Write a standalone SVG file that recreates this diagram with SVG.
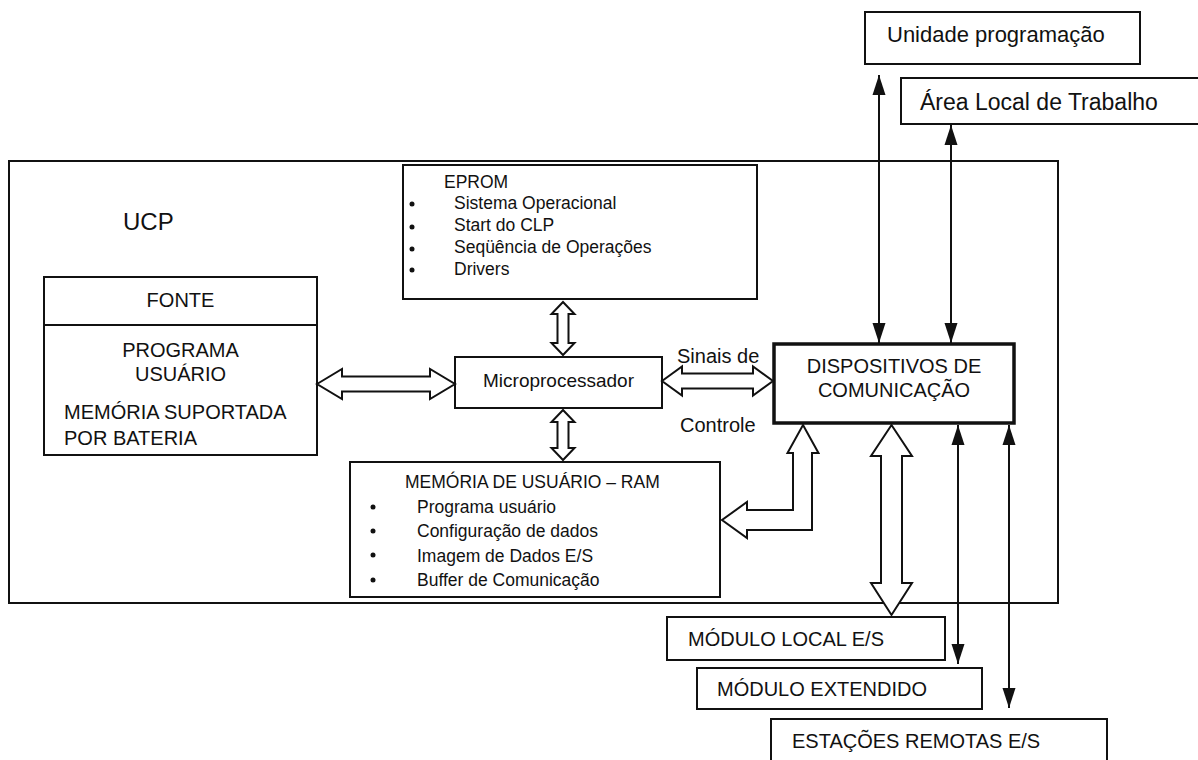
<svg xmlns="http://www.w3.org/2000/svg" width="1198" height="760" viewBox="0 0 1198 760">
<defs>
<style>
text{font-family:"Liberation Sans",Arial,sans-serif;fill:#111}
.box{fill:#fff;stroke:#111;stroke-width:2}
.thick{fill:#fff;stroke:#111;stroke-width:3.5}
.fat{fill:#fff;stroke:#111;stroke-width:2;stroke-linejoin:miter}
.thin{stroke:#111;stroke-width:2;fill:none;marker-start:url(#ah);marker-end:url(#ah)}
.t17{font-size:17.5px}
.t20{font-size:20px}
.mid{text-anchor:middle}
</style>
<marker id="ah" markerUnits="userSpaceOnUse" markerWidth="22" markerHeight="14" refX="20" refY="6.5" orient="auto-start-reverse" viewBox="0 0 22 13">
<path d="M0,0 L20,6.5 L0,13 Z" fill="#111"/>
</marker>
</defs>
<rect width="1198" height="760" fill="#fff"/>

<g id="ucp">
<rect class="box" x="9" y="161" width="1049" height="442" fill="none"/>
<text x="123" y="230" style="font-size:24px">UCP</text>
</g>

<g id="unidade">
<rect class="box" x="865" y="12" width="275" height="52"/>
<text x="887" y="42" style="font-size:22px">Unidade programação</text>
</g>
<g id="area">
<rect class="box" x="901" y="78" width="310" height="46"/>
<text x="920" y="110" style="font-size:23px">Área Local de Trabalho</text>
</g>

<g id="fonte">
<rect class="box" x="44" y="277" width="273" height="178"/>
<line x1="44" y1="325" x2="317" y2="325" stroke="#111" stroke-width="2"/>
<text class="t20 mid" x="180.5" y="307">FONTE</text>
<text class="t20 mid" x="180.5" y="357">PROGRAMA</text>
<text class="t20 mid" x="180.5" y="381">USUÁRIO</text>
<text class="t20" x="64" y="419">MEMÓRIA SUPORTADA</text>
<text class="t20" x="64" y="445">POR BATERIA</text>
</g>

<g id="eprom">
<rect class="box" x="403" y="165" width="354" height="134"/>
<text class="t17" x="444" y="188">EPROM</text>
<circle cx="412" cy="204" r="2.5" fill="#111"/>
<circle cx="412" cy="227" r="2.5" fill="#111"/>
<circle cx="412" cy="249" r="2.5" fill="#111"/>
<circle cx="412" cy="270" r="2.5" fill="#111"/>
<text class="t17" x="454" y="209">Sistema Operacional</text>
<text class="t17" x="454" y="231">Start do CLP</text>
<text class="t17" x="454" y="253">Seqüência de Operações</text>
<text class="t17" x="454" y="275">Drivers</text>
</g>

<g id="micro">
<rect class="box" x="455" y="357" width="207" height="51"/>
<text class="mid" x="558.5" y="387" style="font-size:19px">Microprocessador</text>
</g>

<g id="ram">
<rect class="box" x="350" y="462" width="370" height="135"/>
<text class="t17" x="405" y="488">MEMÓRIA DE USUÁRIO – RAM</text>
<circle cx="373" cy="507" r="2.5" fill="#111"/>
<circle cx="373" cy="531" r="2.5" fill="#111"/>
<circle cx="373" cy="555" r="2.5" fill="#111"/>
<circle cx="373" cy="580" r="2.5" fill="#111"/>
<text class="t17" x="417" y="513">Programa usuário</text>
<text class="t17" x="417" y="537">Configuração de dados</text>
<text class="t17" x="417" y="562">Imagem de Dados E/S</text>
<text class="t17" x="417" y="586">Buffer de Comunicação</text>
</g>

<g id="dispositivos">
<rect class="thick" x="774" y="344" width="240" height="79"/>
<text class="t20 mid" x="894" y="373">DISPOSITIVOS DE</text>
<text class="t20 mid" x="894" y="397">COMUNICAÇÃO</text>
</g>

<g id="modulo-local">
<rect class="box" x="667" y="617" width="278" height="43"/>
<text class="t20" x="688" y="646">MÓDULO LOCAL E/S</text>
</g>
<g id="modulo-extendido">
<rect class="box" x="697" y="668" width="285" height="41"/>
<text class="t20" x="717" y="696">MÓDULO EXTENDIDO</text>
</g>
<g id="estacoes">
<rect class="box" x="771" y="719" width="336" height="60"/>
<text class="t20" x="792" y="748">ESTAÇÕES REMOTAS E/S</text>
</g>

<g id="connectors">
<polygon class="fat" points="317,384 342,369 342,376.5 430,376.5 430,369 455,384 430,399 430,391.5 342,391.5 342,399"/>
<polygon class="fat" points="662,381 682,366.5 682,373.5 753,373.5 753,366.5 773,381 753,395.5 753,388.5 682,388.5 682,395.5"/>
<polygon class="fat" points="563,302 574.5,314 568.5,314 568.5,343 574.5,343 563,355 551.5,343 557.5,343 557.5,314 551.5,314"/>
<polygon class="fat" points="563,410 574.5,422 568.5,422 568.5,448 574.5,448 563,460 551.5,448 557.5,448 557.5,422 551.5,422"/>
<polygon class="fat" points="891.5,425 912,456 902,456 902,583 912,583 891.5,615 871,583 881,583 881,456 871,456"/>
<polygon class="fat" points="803,425 818.5,453 812,453 812,530 747,530 747,538 722,520 747,502 747,510 793,510 793,453 787.5,453"/>
<line class="thin" x1="879" y1="75" x2="879" y2="343"/>
<line class="thin" x1="951" y1="125" x2="951" y2="343"/>
<line class="thin" x1="958" y1="425" x2="958" y2="664"/>
<line class="thin" x1="1009" y1="425" x2="1009" y2="708"/>
</g>
<g id="labels">
<text class="t20" x="677" y="363">Sinais de</text>
<text class="t20" x="680" y="432">Controle</text>
</g>
</svg>
